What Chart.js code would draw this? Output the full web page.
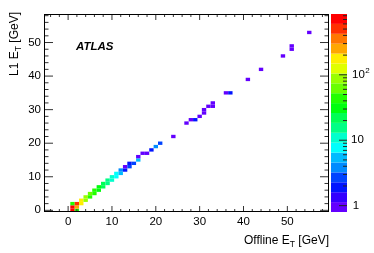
<!DOCTYPE html>
<html><head><meta charset="utf-8">
<style>html,body{margin:0;padding:0;background:#fff;}canvas{display:block;}</style>
<script src="https://cdn.jsdelivr.net/npm/chart.js@4.4.1/dist/chart.umd.min.js"></script>
</head><body>
<canvas id="c" width="374" height="253"></canvas>
<script>
// ---- data (1 GeV bins: offline ET bin, L1 ET bin, entries) ----
const cellX     = [1,1,1,2,2,2,3,3,4,4,5,5,6,6,7,7,8,8,9,9,10,10,11,11,12,12,13,13,14,14,15,16,16,17,18,19,20,21,24,27,28,29,30,31,31,32,33,33,36,37,41,44,49,51,51,55];
const cellY     = [0,1,2,0,1,2,2,3,3,4,4,5,5,6,6,7,7,8,8,9,9,10,10,11,11,12,12,13,13,14,14,15,16,17,17,18,19,20,22,26,27,27,28,29,30,31,31,32,35,35,39,42,46,48,49,53];
const cellCount = [700,800,45,40,280,500,150,170,90,100,50,60,40,45,30,35,22,25,14,16,11,12,9,8,5,4,2,1,3,2,3,5,1,1,1,2,4,3,1,1,1,2,1,1,1,1,1,1,1,2,1,1,1,1,1,1];
const xTickLabels = [0,10,20,30,40,50];
const yTickLabels = [0,10,20,30,40,50];
const zTickLabels = [1,10,100];
const xRange = [-5.5,59.5];
const yRange = [-0.5,58.5];
const zRange = [0.8,850];
const nBands = 20;

const FONT = '"Liberation Sans", Arial, Helvetica, sans-serif';

function bandColor(i){
  const idx = Math.floor((i+0.99)*50/nBands);
  const hue = 280-(idx+1)*5.6;
  return 'hsl('+hue.toFixed(1)+',100%,50%)';
}
function zBand(v){
  const l0=Math.log10(zRange[0]), l1=Math.log10(zRange[1]);
  const t=(Math.log10(v)-l0)/(l1-l0);
  return Math.min(nBands-1,Math.max(0,Math.floor(t*nBands)));
}

const points = cellX.map((x,i)=>({x:x,y:cellY[i],v:cellCount[i]}));

const heat = {
  id:'heat',
  beforeDatasetsDraw(chart){
    const {ctx, chartArea:a, scales:{x,y}} = chart;
    ctx.save();
    ctx.beginPath(); ctx.rect(a.left,a.top,a.right-a.left,a.bottom-a.top); ctx.clip();
    chart.data.datasets[0].data.forEach(p=>{
      const x0=x.getPixelForValue(p.x-0.5), x1=x.getPixelForValue(p.x+0.5);
      const y0=y.getPixelForValue(p.y+0.5), y1=y.getPixelForValue(p.y-0.5);
      ctx.fillStyle=bandColor(zBand(p.v));
      ctx.fillRect(x0,y0,x1-x0,y1-y0);
    });
    ctx.restore();
  },
  afterDraw(chart){
    const {ctx, chartArea:a, scales:{x,y,z}} = chart;
    ctx.save();
    // ticks
    ctx.strokeStyle='#333'; ctx.lineWidth=1;
    ctx.beginPath();
    for(let v=-4; v<=58; v+=2){
      const px=x.getPixelForValue(v);
      const len=(v%10===0)?6:3;
      ctx.moveTo(px,a.bottom); ctx.lineTo(px,a.bottom-len);
      ctx.moveTo(px,a.top); ctx.lineTo(px,a.top+len);
    }
    for(let v=0; v<=58; v+=2){
      const py=y.getPixelForValue(v);
      const len=(v%10===0)?9:4.5;
      ctx.moveTo(a.left,py); ctx.lineTo(a.left+len,py);
      ctx.moveTo(a.right,py); ctx.lineTo(a.right-len,py);
    }
    ctx.stroke();
    // frame
    ctx.strokeStyle='#000';
    ctx.strokeRect(Math.round(a.left)+0.5,Math.round(a.top)+0.5,Math.round(a.right-a.left)-1,Math.round(a.bottom-a.top)-1);

    // colour bar
    const bx0=331, bx1=347;
    const l0=Math.log10(zRange[0]), l1=Math.log10(zRange[1]);
    for(let i=0;i<nBands;i++){
      const va=Math.pow(10,l0+(l1-l0)*i/nBands), vb=Math.pow(10,l0+(l1-l0)*(i+1)/nBands);
      const ya=z.getPixelForValue(va), yb=z.getPixelForValue(vb);
      ctx.fillStyle=bandColor(i);
      ctx.fillRect(bx0,yb,bx1-bx0,ya-yb);
    }
    ctx.strokeStyle='#222';
    ctx.beginPath();
    for(let d=1; d<=100; d*=10){
      for(let m=1;m<=9;m++){
        const v=d*m; if(v<zRange[0]||v>zRange[1]) continue;
        const py=z.getPixelForValue(v);
        const len=(m===1)?8:4;
        ctx.moveTo(bx1,py); ctx.lineTo(bx1-len,py);
      }
    }
    ctx.stroke();
    // colour bar labels
    ctx.fillStyle='#000';
    ctx.textBaseline='middle';
    ctx.font='11.5px '+FONT;
    zTickLabels.forEach(v=>{
      const py=z.getPixelForValue(v);
      if(v===1){ ctx.textAlign='center'; ctx.fillText('1',356,py); }
      else if(v===10){ ctx.textAlign='center'; ctx.fillText('10',357.5,py); }
      else {
        ctx.textAlign='left';
        const e=Math.round(Math.log10(v));
        ctx.fillText('10',352,py);
        const w=ctx.measureText('10').width;
        ctx.font='8px '+FONT;
        ctx.fillText(String(e),352+w+0.5,py-4);
        ctx.font='11.5px '+FONT;
      }
    });

    // axis titles
    ctx.textBaseline='alphabetic';
    ctx.textAlign='left';
    const big='12px '+FONT, small='8.5px '+FONT;
    function measure(parts){
      let w=0; parts.forEach(p=>{ctx.font=p[1]; w+=ctx.measureText(p[0]).width;}); return w;
    }
    function drawParts(parts,x0,y0){
      let cx=x0;
      parts.forEach(p=>{ctx.font=p[1]; ctx.fillText(p[0],cx,y0+p[2]); cx+=ctx.measureText(p[0]).width;});
    }
    const xt=[['Offline E',big,0],['T',small,3],[' [GeV]',big,0]];
    drawParts(xt, a.right - measure(xt), 244);
    const yt=[['L1 E',big,0],['T',small,3],[' [GeV]',big,0]];
    ctx.save();
    ctx.translate(18.3,12);
    ctx.rotate(-Math.PI/2);
    drawParts(yt, -measure(yt), 0);
    ctx.restore();

    // ATLAS label
    ctx.font='italic bold 11.5px '+FONT;
    ctx.fillText('ATLAS',76,49.5);
    ctx.restore();
  }
};

const tickFont = {family: FONT, size: 11.5};
new Chart(document.getElementById('c'), {
  type:'scatter',
  data:{datasets:[{data:points, pointRadius:0, pointHoverRadius:0, showLine:false}]},
  options:{
    responsive:false, animation:false, devicePixelRatio:1,
    events:[],
    layout:{padding:{left:0,right:45,top:14,bottom:0}},
    plugins:{legend:{display:false}, tooltip:{enabled:false}},
    scales:{
      x:{type:'linear', min:xRange[0], max:xRange[1],
         afterBuildTicks:s=>{s.ticks=xTickLabels.map(v=>({value:v}));},
         afterFit:s=>{s.height=41;},
         ticks:{font:tickFont, color:'#000', padding:3, maxRotation:0, autoSkip:false, callback:v=>String(v)},
         grid:{display:false, drawTicks:false}, border:{display:false}},
      y:{type:'linear', min:yRange[0], max:yRange[1],
         afterBuildTicks:s=>{s.ticks=yTickLabels.map(v=>({value:v}));},
         afterFit:s=>{s.width=44;},
         ticks:{font:tickFont, color:'#000', padding:3, autoSkip:false, callback:v=>String(v)},
         grid:{display:false, drawTicks:false}, border:{display:false}},
      z:{type:'logarithmic', position:'right', display:false, min:zRange[0], max:zRange[1]}
    }
  },
  plugins:[heat]
});
</script>
</body></html>
